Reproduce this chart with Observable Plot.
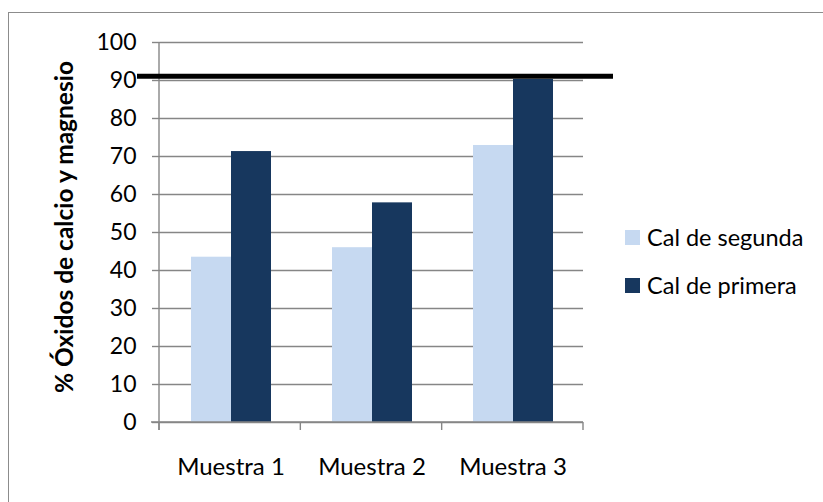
<!DOCTYPE html>
<html>
<head>
<meta charset="utf-8">
<script src="https://cdn.jsdelivr.net/npm/d3@7"></script>
<script src="https://cdn.jsdelivr.net/npm/@observablehq/plot@0.6"></script>
<style>
  body { margin: 0; background: #fff; overflow: hidden; }
  #chart { position: relative; width: 823px; height: 502px; overflow: hidden; font-family: Lato, "Open Sans", sans-serif; }
  #chart svg { position: absolute; left: 0; top: 0; }
  #frame { position: absolute; left: 8px; top: 12px; width: 900px; height: 600px; border: 1.5px solid #8c8c8c; box-sizing: border-box; }
  #legend { position: absolute; left: 625px; top: 223px; font-size: 23.5px; color: #000; }
  .item { display: flex; align-items: center; height: 28px; margin-bottom: 20px; }
  .swatch { width: 15px; height: 15px; margin-right: 7px; }
</style>
</head>
<body>
<div id="chart"><div id="frame"></div><div id="legend"></div></div>
<script>
// Samples and the two lime grades measured in each
const muestras = ["Muestra 1", "Muestra 2", "Muestra 3"];
const series = ["Cal de segunda", "Cal de primera"];
const segunda = [43.5, 46.0, 72.9];
const primera = [71.3, 57.8, 90.3];
const colores = ["#C6D9F1", "#17375E"];
const yTicks = [0, 10, 20, 30, 40, 50, 60, 70, 80, 90, 100];
const limite = 91; // reference level drawn as a thick black line
const titulo = "% Óxidos de calcio y magnesio";

const rows = muestras.flatMap((m, i) => [
  {muestra: m, serie: series[0], valor: segunda[i]},
  {muestra: m, serie: series[1], valor: primera[i]}
]);

const gris = "#868686";

const plot = Plot.plot({
  width: 823,
  height: 502,
  marginLeft: 159,
  marginRight: 240,
  marginTop: 42,
  marginBottom: 80,
  style: {fontFamily: "Lato, 'Open Sans', sans-serif", fontSize: "23px", color: "#000", background: "transparent", overflow: "visible"},
  fx: {domain: muestras, paddingInner: 0, paddingOuter: 0, label: null, tickSize: 0, tickPadding: 35},
  x: {domain: series, paddingInner: 0, paddingOuter: 0.745, axis: null},
  y: {domain: [0, 100], ticks: yTicks, tickSize: 8, tickPadding: 16, label: null, tickFormat: d => String(d)},
  color: {domain: series, range: colores},
  marks: [
    Plot.ruleY(yTicks, {stroke: gris, strokeWidth: 1.4}),
    Plot.barY(rows, {fx: "muestra", x: "serie", y: "valor", fill: "serie"})
  ]
});

const svg = d3.select(plot);
// tick strokes in the axis group take the grey of the grid
svg.selectAll("g[aria-label='y-axis'] path, g[aria-label='y-axis tick'] path").attr("stroke", gris).attr("stroke-width", 1.4);
svg.selectAll("g[aria-label='y-axis'] line").attr("stroke", gris);
svg.selectAll("g[aria-label='fx-axis'] text, g[aria-label='fx-axis tick label'] text").attr("font-size", 24);

// Band and linear scales from the rendered plot
const fxs = plot.scale("fx");
const ys = plot.scale("y");
const fx = d3.scaleBand().domain(fxs.domain).range(fxs.range).paddingInner(0).paddingOuter(0);
const y = d3.scaleLinear().domain(ys.domain).range(ys.range);
const left = fx.range()[0], right = fx.range()[1];
const y0 = y(0);

const g = svg.append("g");
// vertical axis line
g.append("line").attr("x1", left).attr("x2", left).attr("y1", y(100)).attr("y2", y0 + 8)
  .attr("stroke", gris).attr("stroke-width", 1.4);
// horizontal axis line
g.append("line").attr("x1", left - 8).attr("x2", right).attr("y1", y0).attr("y2", y0)
  .attr("stroke", gris).attr("stroke-width", 1.6);
// category boundary ticks
const bounds = muestras.map(m => fx(m)).concat([fx(muestras[muestras.length - 1]) + fx.bandwidth()]);
g.selectAll("line.b").data(bounds).join("line")
  .attr("x1", d => d).attr("x2", d => d).attr("y1", y0).attr("y2", y0 + 8)
  .attr("stroke", gris).attr("stroke-width", 1.4);
// reference level line
g.append("line").attr("x1", left - 22).attr("x2", right + 30).attr("y1", y(limite)).attr("y2", y(limite))
  .attr("stroke", "#000").attr("stroke-width", 5);
// rotated axis title
g.append("text")
  .attr("transform", `translate(64,${(y(0) + y(100)) / 2 - 5}) rotate(-90)`)
  .attr("text-anchor", "middle").attr("dy", "0.35em")
  .attr("font-weight", "bold").attr("font-size", 24.5).attr("fill", "#000")
  .text(titulo);

document.getElementById("chart").appendChild(plot);

// legend at the right of the plot
const legend = d3.select("#legend");
series.forEach((s, i) => {
  const it = legend.append("div").attr("class", "item");
  it.append("div").attr("class", "swatch").style("background", colores[i]);
  it.append("span").text(s);
});
</script>
</body>
</html>
